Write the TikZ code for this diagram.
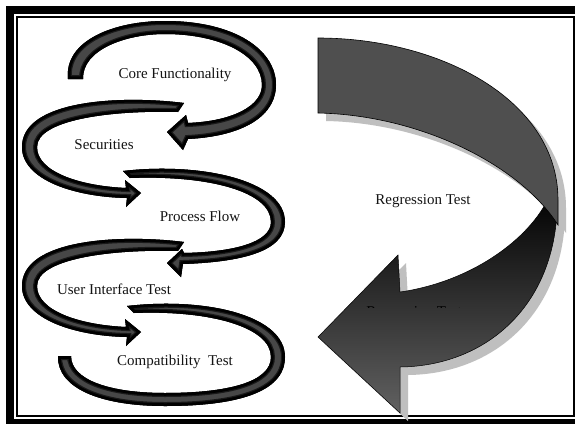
\documentclass[tikz,border=0pt]{standalone}
\usepackage{fontspec}
\setmainfont{Liberation Serif}
\begin{document}
\begin{tikzpicture}[x=1pt,y=-1pt]
\tikzset{
  looptext/.style={font=\fontsize{15}{18}\selectfont, text=black!92, inner sep=0pt},
  % looping ribbons of the test cycle
  loopA/.style={insert path={(68,79) .. controls (64,40) and (115,21) .. (165,21)
      .. controls (235,21) and (276,50) .. (276,85)
      .. controls (276,115) and (245,136) .. (188,139)
      -- (183,150) -- (167,132) -- (186,115) -- (188,123)
      .. controls (235,121) and (262,105) .. (262,85)
      .. controls (262,55) and (220,34) .. (165,34)
      .. controls (125,34) and (82,50) .. (83,79) -- cycle}},
  loopB/.style={insert path={(184,103) .. controls (120,95) and (22,100) .. (22,147)
      .. controls (22,180) and (75,197) .. (127,198)
      -- (126,207) -- (141,193) -- (125,180) -- (126,188)
      .. controls (80,186) and (37,172) .. (37,147)
      .. controls (37,120) and (110,110) .. (178,112) -- cycle}},
  loopC/.style={insert path={(123,171) .. controls (200,162) and (285,180) .. (285,222)
      .. controls (285,252) and (240,262) .. (183,264)
      -- (181,277) -- (167,263) -- (182,249) -- (184,253)
      .. controls (235,252) and (271,242) .. (271,222)
      .. controls (271,192) and (210,175) .. (130,178) -- cycle}},
  loopE/.style={insert path={(127,306) .. controls (205,297) and (285,315) .. (285,357)
      .. controls (285,393) and (235,406) .. (165,406)
      .. controls (100,406) and (57,388) .. (58,356)
      -- (71,356)
      .. controls (71,380) and (110,393) .. (165,393)
      .. controls (228,393) and (271,382) .. (271,357)
      .. controls (271,327) and (210,310) .. (134,313) -- cycle}},
  % large curved return arrow
  frontband/.style={insert path={(318,38) .. controls (440,38) and (558,100) .. (558,200)
      -- (558,225) .. controls (520,165) and (420,115) .. (318,113) -- cycle}},
  backband/.style={insert path={(557,190) .. controls (562,300) and (490,366) .. (400,367)
      -- (400,413) -- (318,337) -- (398,255) -- (400,292)
      .. controls (470,282) and (530,240) .. (550,195) -- cycle}},
}
% glossy black ribbon: dark edges, faint lighter core
\newcommand\tubeband[1]{%
  \begin{scope}
    \clip[#1];
    \fill[black!72, #1];
    \draw[black!90, line width=8pt, #1];
    \draw[black, line width=5.5pt, #1];
  \end{scope}}

\useasboundingbox (0,0) rectangle (575,423);
% frame
\fill[white] (0,0) rectangle (575,423);
\fill[black] (6,6) rectangle (590,440);
\fill[white] (14,14) rectangle (582,419);
\draw[line width=2pt] (17,17) rectangle (574,416);

% ribbons
\tubeband{loopA}
\tubeband{loopB}
\tubeband{loopC}
\begin{scope}[shift={(0,139)}]
  \tubeband{loopB}
\end{scope}
\tubeband{loopE}

% curved arrow: shadow, back part, front part
\begin{scope}[shift={(8,8)}]
  \fill[gray!50, backband];
  \fill[gray!50, frontband];
\end{scope}
\shade[top color=black, bottom color=black!62, backband];
\draw[black, line width=0.5pt, backband];
\begin{scope}
  \clip (330,305.2) rectangle (520,307.4);
  \node[looptext, anchor=base, text=black] (hidden) at (414,316) {Regression Test};
\end{scope}
\fill[black!69, frontband];
\draw[black, line width=0.6pt, frontband];

% labels
\node[looptext] (core) at (175,75) {Core Functionality};
\node[looptext] (sec) at (104,145) {Securities};
\node[looptext] (proc) at (200,216) {Process Flow};
\node[looptext] (ui) at (114,289) {User Interface Test};
\node[looptext] (compat) at (175,362) {Compatibility~ Test};
\node[looptext] (regr) at (423,201) {Regression Test};
\end{tikzpicture}
\end{document}
